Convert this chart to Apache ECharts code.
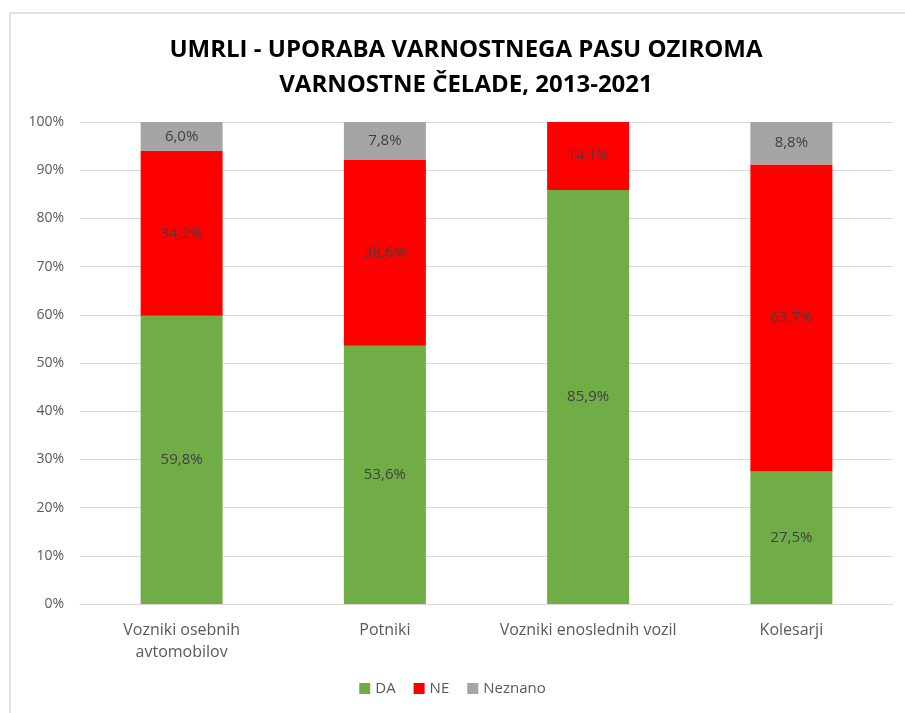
<!DOCTYPE html>
<html>
<head>
<meta charset="utf-8">
<script src="https://cdn.jsdelivr.net/npm/echarts@6/dist/echarts.min.js"></script>
<style>
  html, body { margin: 0; padding: 0; background: #fff; }
  #chart { width: 905px; height: 713px; }
</style>
</head>
<body>
<div id="chart"></div>
<script>
var categories = ['Vozniki osebnih\navtomobilov', 'Potniki', 'Vozniki enoslednih vozil', 'Kolesarji'];
var daValues = [59.8, 53.6, 85.9, 27.5];
var neValues = [34.2, 38.6, 14.1, 63.7];
var neznanoValues = [6.0, 7.8, 0, 8.8];
var yTicks = [0, 10, 20, 30, 40, 50, 60, 70, 80, 90, 100];

var chart = echarts.init(document.getElementById('chart'));

function pct(p) {
    if (!p.value) return '';
    return p.value.toFixed(1).replace('.', ',') + '%';
}

var labelStyle = {
    show: true,
    position: 'inside',
    formatter: pct,
    color: '#404040',
    fontSize: 15,
    fontFamily: 'Open Sans'
};

chart.setOption({
    animation: false,
    textStyle: { fontFamily: 'Open Sans' },
    graphic: [{
        type: 'rect',
        shape: { x: 10, y: 13, width: 905, height: 710 },
        style: { fill: 'none', stroke: '#d9d9d9', lineWidth: 1.5 }
    }],
    title: {
        text: 'UMRLI - UPORABA VARNOSTNEGA PASU OZIROMA\nVARNOSTNE ČELADE, 2013-2021',
        left: 461,
        textAlign: 'center',
        top: 28,
        textStyle: {
            fontFamily: 'Open Sans',
            fontWeight: 'bold',
            fontSize: 24,
            lineHeight: 35,
            color: '#000'
        }
    },
    legend: {
        bottom: 12,
        left: 'center',
        itemWidth: 11,
        itemHeight: 11,
        itemGap: 18,
        icon: 'rect',
        textStyle: { color: '#595959', fontSize: 15, fontFamily: 'Open Sans' },
        data: ['DA', 'NE', 'Neznano']
    },
    grid: { left: 80, right: 12, top: 122, bottom: 109 },
    xAxis: {
        type: 'category',
        data: categories,
        axisLine: { lineStyle: { color: '#d9d9d9', width: 1 } },
        axisTick: { show: false },
        axisLabel: { interval: 0, color: '#595959', fontSize: 16, lineHeight: 22, margin: 15, fontFamily: 'Open Sans' }
    },
    yAxis: {
        type: 'value',
        min: 0,
        max: 100,
        interval: 10,
        axisLine: { show: false },
        axisTick: { show: false },
        splitLine: { lineStyle: { color: '#d9d9d9', width: 1 } },
        axisLabel: {
            color: '#595959',
            fontSize: 14,
            margin: 16,
            fontFamily: 'Open Sans',
            formatter: function (v) { return yTicks.indexOf(v) >= 0 ? v + '%' : ''; }
        }
    },
    series: [
        { name: 'DA', type: 'bar', stack: 't', barWidth: 82, data: daValues,
          itemStyle: { color: '#70ad47' }, label: labelStyle },
        { name: 'NE', type: 'bar', stack: 't', barWidth: 82, data: neValues,
          itemStyle: { color: '#ff0000' }, label: labelStyle },
        { name: 'Neznano', type: 'bar', stack: 't', barWidth: 82, data: neznanoValues,
          itemStyle: { color: '#a5a5a5' }, label: labelStyle }
    ]
});
</script>
</body>
</html>
